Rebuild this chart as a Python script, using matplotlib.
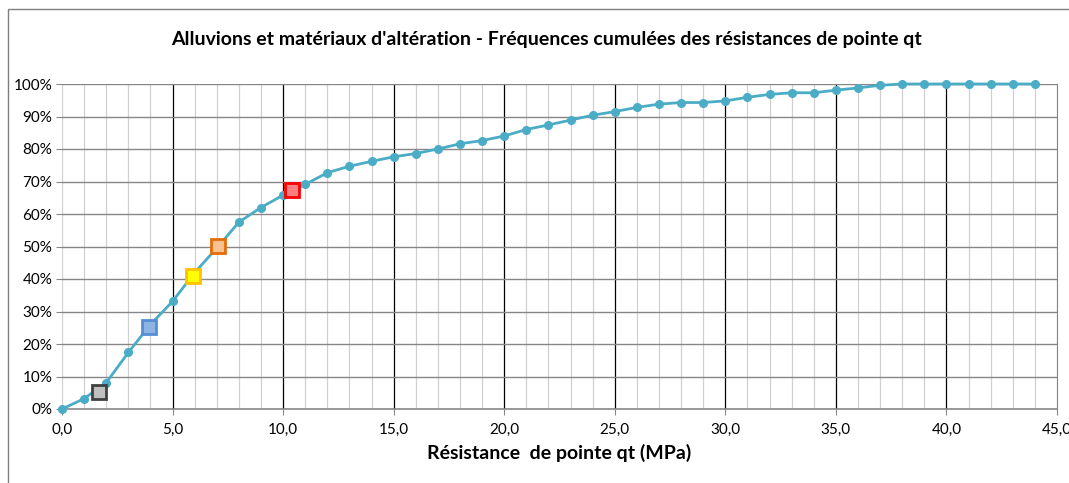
import numpy as np
import matplotlib
matplotlib.use("Agg")
from matplotlib import pyplot as plt
from matplotlib.ticker import MultipleLocator, FuncFormatter
from matplotlib.patches import Rectangle

# cumulative frequency curve, one point per MPa
qt = list(range(0, 45))
freq = [0.0, 3.2, 8.1, 17.4, 26.0, 33.1, 42.0, 49.5, 57.5, 62.0,
        65.8, 69.1, 72.7, 74.7, 76.2, 77.6, 78.6, 80.0, 81.6, 82.6,
        84.0, 86.0, 87.4, 88.9, 90.4, 91.5, 92.8, 93.8, 94.3, 94.3,
        94.8, 95.9, 96.8, 97.3, 97.3, 98.1, 98.8, 99.6, 100.0, 100.0,
        100.0, 100.0, 100.0, 100.0, 100.0]

# highlighted points (square markers)
mark_qt = [1.67, 3.94, 5.91, 7.06, 10.4]
mark_freq = [5.2, 25.3, 41.0, 50.1, 67.4]
mark_face = ["#bfbfbf", "#8eb4e3", "#ffff00", "#fac090", "#ff8080"]
mark_edge = ["#404040", "#558ed5", "#ffc000", "#e46c0a", "#ff0000"]

title = "Alluvions et matériaux d'altération - Fréquences cumulées des résistances de pointe qt"
xlabel = "Résistance  de pointe qt (MPa)"

plt.rcParams['font.family'] = ['Lato', 'DejaVu Sans']

fig = plt.figure(figsize=(10.69, 4.83), dpi=100)
ax = fig.add_axes([62/1069, 1-409/483, 995/1069, 325/483])

# outer chart frame (cropped right and bottom)
fig.patches.append(Rectangle((8/1069, -0.1), 1.2, 1-9/483+0.1, transform=fig.transFigure,
                             fill=False, edgecolor="#7f7f7f", linewidth=1.0, zorder=-1))

ax.set_xlim(0, 45)
ax.set_ylim(0, 100)

# grid
for x in range(0, 46):
    if x % 5 == 0 and x not in (0, 45):
        ax.axvline(x, color="black", linewidth=0.9, zorder=1)
    else:
        ax.axvline(x, color="#d0d0d0", linewidth=0.9, zorder=0)
for y in range(10, 101, 10):
    ax.axhline(y, color="#868686", linewidth=1.0, zorder=1)

ax.plot(qt, freq, color="#4bacc6", linewidth=2.0, marker="o", markersize=5.5,
        zorder=3, clip_on=False)
for xq, yf, fc, ec in zip(mark_qt, mark_freq, mark_face, mark_edge):
    ax.plot(xq, yf, marker="s", markersize=10.5, markerfacecolor=fc,
            markeredgecolor=ec, markeredgewidth=2.0, linestyle="none", zorder=4)

ax.xaxis.set_major_locator(MultipleLocator(5))
ax.yaxis.set_major_locator(MultipleLocator(10))
ax.xaxis.set_major_formatter(FuncFormatter(lambda v, p: ("%.1f" % v).replace(".", ",")))
ax.yaxis.set_major_formatter(FuncFormatter(lambda v, p: "%d%%" % v))
ax.tick_params(axis="x", length=4, color="#868686", labelsize=11, pad=6)
ax.tick_params(axis="y", length=4, color="#868686", labelsize=11, pad=3)

for s in ["top", "left"]:
    ax.spines[s].set_visible(False)
ax.spines["bottom"].set_color("#868686")
ax.spines["right"].set_color("#868686")
ax.spines["bottom"].set_linewidth(1.2)

fig.text(546/1069, 1-40/483, title, ha="center", va="center", fontsize=14, fontweight="bold")
ax.set_xlabel(xlabel, fontsize=14, fontweight="bold", labelpad=5)

fig.savefig("out.png", dpi=100)
